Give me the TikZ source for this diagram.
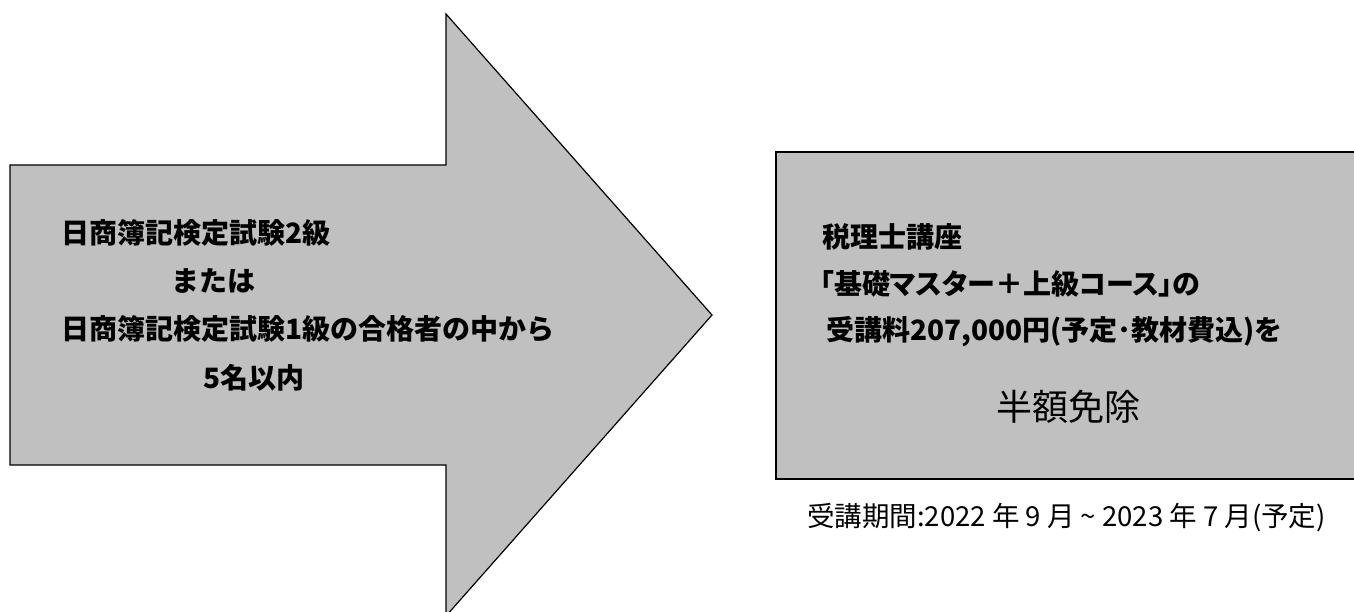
\documentclass[tikz,border=0pt]{standalone}
\usepackage{fontspec}
\newfontfamily\jp{Noto Sans CJK JP}
\newfontfamily\jpp[RawFeature=+palt]{Noto Sans CJK JP}
\definecolor{silver}{HTML}{C0C0C0}
\begin{document}
\begin{tikzpicture}[x=1pt,y=-1pt,
  shapefill/.style={fill=silver,draw=black,line width=1.2pt,line join=miter},
  boldtxt/.style={anchor=west,inner sep=0pt,font=\jp\bfseries\fontsize{28}{30}\selectfont},
  boldtxtp/.style={anchor=west,inner sep=0pt,font=\jpp\bfseries\fontsize{28}{30}\selectfont},
  bigtxt/.style={anchor=center,inner sep=0pt,font=\jp\fontsize{36}{38}\selectfont},
  captxt/.style={anchor=west,inner sep=0pt,font=\jp\fontsize{27.5}{29}\selectfont}]
\useasboundingbox (0,0) rectangle (1354,612);
\fill[white] (0,0) rectangle (1354,612);
\begin{scope}
\clip (0,0) rectangle (1354,612);
% big arrow
\draw[shapefill] (10,165) -- (446,165) -- (446,14) -- (712,315) -- (446,616) -- (446,465) -- (10,465) -- cycle;
% right box
\draw[shapefill] (776,152) rectangle (1362,479);
\end{scope}
% left texts
\node[boldtxt] (l1) at (61,233) {日商簿記検定試験2級};
\node[boldtxt] (l2) at (171,281) {または};
\node[boldtxt] (l3) at (61,329) {日商簿記検定試験1級の合格者の中から};
\node[boldtxt] (l4) at (203,378) {5名以内};
% right texts
\node[boldtxt] (r1) at (822,237) {税理士講座};
\node[boldtxtp] (r2) at (820,284) {「基礎マスター＋上級コース」の};
\node[boldtxt] (r3) at (826,332) {受講料207,000円(予定･教材費込)を};
\node[bigtxt] (r4) at (1068,407) {半額免除};
\node[captxt] (cap) at (807,518) {受講期間:2022 年 9 月 \textasciitilde{} 2023 年 7 月(予定)};
\end{tikzpicture}
\end{document}
